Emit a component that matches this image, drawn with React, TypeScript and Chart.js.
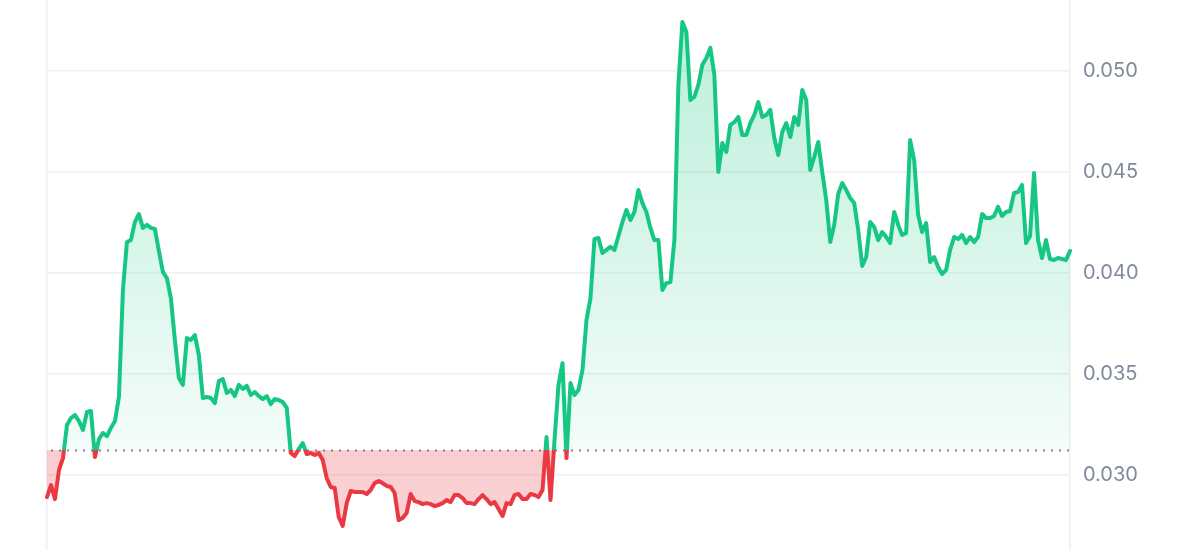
import React, { useEffect, useRef } from "react";
import { Chart, registerables } from "chart.js";

Chart.register(...registerables);

// Price series (USD), 7-day history, evenly spaced samples
const PRICES: number[] = [
  0.02891, 0.02950, 0.02881, 0.03025, 0.03084, 0.03248, 0.03282, 0.03297, 0.03267, 0.03223,
  0.03312, 0.03317, 0.03089, 0.03178, 0.03208, 0.03193, 0.03233, 0.03267, 0.03386, 0.03916,
  0.04153, 0.04163, 0.04252, 0.04292, 0.04223, 0.04238, 0.04223, 0.04218, 0.04109, 0.04005,
  0.03975, 0.03876, 0.03668, 0.03480, 0.03446, 0.03678, 0.03668, 0.03693, 0.03594, 0.03381,
  0.03386, 0.03381, 0.03356, 0.03465, 0.03475, 0.03406, 0.03421, 0.03391, 0.03446, 0.03426,
  0.03441, 0.03396, 0.03411, 0.03391, 0.03376, 0.03391, 0.03351, 0.03376, 0.03371, 0.03361,
  0.03332, 0.03109, 0.03094, 0.03129, 0.03158, 0.03104, 0.03109, 0.03099, 0.03109, 0.03074,
  0.02985, 0.02941, 0.02936, 0.02792, 0.02748, 0.02861, 0.02921, 0.02916, 0.02916, 0.02916,
  0.02906, 0.02926, 0.02960, 0.02970, 0.02960, 0.02946, 0.02941, 0.02911, 0.02777, 0.02787,
  0.02812, 0.02906, 0.02871, 0.02866, 0.02856, 0.02861, 0.02856, 0.02847, 0.02852, 0.02861,
  0.02876, 0.02866, 0.02901, 0.02901, 0.02886, 0.02861, 0.02861, 0.02856, 0.02881, 0.02901,
  0.02881, 0.02856, 0.02866, 0.02832, 0.02797, 0.02861, 0.02856, 0.02901, 0.02906, 0.02881,
  0.02881, 0.02906, 0.02901, 0.02891, 0.02926, 0.03188, 0.02876, 0.03173, 0.03446, 0.03554,
  0.03084, 0.03455, 0.03396, 0.03421, 0.03520, 0.03767, 0.03876, 0.04168, 0.04173, 0.04099,
  0.04114, 0.04129, 0.04114, 0.04183, 0.04252, 0.04312, 0.04262, 0.04302, 0.04411, 0.04346,
  0.04302, 0.04223, 0.04163, 0.04163, 0.03916, 0.03950, 0.03955, 0.04163, 0.04931, 0.05242,
  0.05193, 0.04856, 0.04871, 0.04931, 0.05030, 0.05064, 0.05114, 0.04980, 0.04500, 0.04643,
  0.04599, 0.04733, 0.04747, 0.04772, 0.04683, 0.04683, 0.04742, 0.04782, 0.04846, 0.04772,
  0.04782, 0.04807, 0.04668, 0.04584, 0.04698, 0.04742, 0.04673, 0.04772, 0.04733, 0.04906,
  0.04856, 0.04510, 0.04574, 0.04648, 0.04500, 0.04361, 0.04153, 0.04238, 0.04391, 0.04445,
  0.04411, 0.04371, 0.04346, 0.04213, 0.04035, 0.04079, 0.04252, 0.04228, 0.04163, 0.04203,
  0.04178, 0.04148, 0.04302, 0.04238, 0.04188, 0.04198, 0.04658, 0.04559, 0.04287, 0.04203,
  0.04247, 0.04054, 0.04079, 0.04030, 0.03995, 0.04015, 0.04114, 0.04178, 0.04168, 0.04188,
  0.04148, 0.04178, 0.04153, 0.04178, 0.04292, 0.04272, 0.04272, 0.04282, 0.04327, 0.04282,
  0.04302, 0.04307, 0.04396, 0.04401, 0.04436, 0.04148, 0.04183, 0.04495, 0.04163, 0.04074,
  0.04163, 0.04069, 0.04064, 0.04074, 0.04069, 0.04064, 0.04109,
];

const TIME_LABELS: string[] = PRICES.map((_, i) => String(i));

// Opening price used as the reference (dotted) line
const BASELINE = 0.03124;

const Y_TICKS: number[] = [0.03, 0.035, 0.04, 0.045, 0.05];
const Y_MIN = 0.02629;
const Y_MAX = 0.05351;

const GREEN = "#16c784";
const RED = "#ea3943";

function baselineStop(chart: any): number | null {
  const area = chart.chartArea;
  const ys = chart.scales && chart.scales.y;
  if (!area || !ys) return null;
  const py = ys.getPixelForValue(BASELINE);
  const s = (py - area.top) / (area.bottom - area.top);
  return Math.min(1, Math.max(0, s));
}

const baselinePlugin = {
  id: "baselineDots",
  beforeDatasetsDraw(chart: any) {
    const { ctx, chartArea, scales } = chart;
    const y = Math.round(scales.y.getPixelForValue(BASELINE)) + 0.5;
    ctx.save();
    ctx.strokeStyle = "rgba(118,128,148,0.95)";
    ctx.lineWidth = 2;
    ctx.setLineDash([2, 6]);
    ctx.beginPath();
    ctx.moveTo(chartArea.left + 4, y);
    ctx.lineTo(chartArea.right, y);
    ctx.stroke();
    ctx.restore();
  },
};

export default function App() {
  const ref = useRef<HTMLCanvasElement | null>(null);

  useEffect(() => {
    document.body.style.margin = "0";
    const canvas = ref.current;
    if (!canvas) return;
    const chart = new Chart(canvas, {
      type: "line",
      data: {
        labels: TIME_LABELS,
        datasets: [
          {
            data: PRICES,
            xAxisID: "x",
            yAxisID: "y",
            borderWidth: 4,
            pointRadius: 0,
            tension: 0,
            borderJoinStyle: "round",
            borderCapStyle: "round",
            fill: { target: { value: BASELINE } } as any,
            borderColor: (c: any) => {
              const chart = c.chart;
              const s = baselineStop(chart);
              if (s === null) return GREEN;
              const a = chart.chartArea;
              const g = chart.ctx.createLinearGradient(0, a.top, 0, a.bottom);
              g.addColorStop(0, GREEN);
              g.addColorStop(s, GREEN);
              g.addColorStop(s, RED);
              g.addColorStop(1, RED);
              return g;
            },
            backgroundColor: (c: any) => {
              const chart = c.chart;
              const s = baselineStop(chart);
              if (s === null) return "rgba(22,199,132,0.15)";
              const a = chart.chartArea;
              const g = chart.ctx.createLinearGradient(0, a.top, 0, a.bottom);
              g.addColorStop(0, "rgba(22,199,132,0.30)");
              g.addColorStop(s, "rgba(22,199,132,0.05)");
              g.addColorStop(s, "rgba(234,57,67,0.25)");
              g.addColorStop(1, "rgba(234,57,67,0.22)");
              return g;
            },
          },
        ],
      },
      options: {
        animation: false,
        responsive: false,
        devicePixelRatio: 1,
        layout: { padding: 0 },
        plugins: {
          legend: { display: false },
          tooltip: { enabled: false },
        },
        scales: {
          x: {
            type: "category",
            display: false,
            offset: false,
          },
          y: {
            position: "right",
            min: Y_MIN,
            max: Y_MAX,
            afterBuildTicks: (s: any) => {
              s.ticks = Y_TICKS.map((v) => ({ value: v }));
            },
            ticks: {
              padding: 13,
              color: "#808a9d",
              font: { family: "Inter", size: 20 },
              callback: (v: any) => Number(v).toFixed(3),
            },
            grid: { color: "#eeeff2", lineWidth: 1.5, drawTicks: false },
            border: { display: true, color: "#eeeff2", width: 1.5 },
            afterFit: (s: any) => {
              s.width = 130;
              s.paddingTop = 0;
              s.paddingBottom = 0;
            },
          },
          yl: {
            position: "left",
            display: true,
            min: 0,
            max: 1,
            ticks: { display: false },
            grid: { display: false, drawTicks: false },
            border: { display: true, color: "#eeeff2", width: 1.5 },
            afterFit: (s: any) => {
              s.width = 47;
              s.paddingTop = 0;
              s.paddingBottom = 0;
            },
          },
        },
      } as any,
      plugins: [baselinePlugin],
    });
    return () => chart.destroy();
  }, []);

  return (
    <div style={{ width: 1200, height: 550, position: "relative" }}>
      <canvas ref={ref} width={1200} height={550} />
    </div>
  );
}
